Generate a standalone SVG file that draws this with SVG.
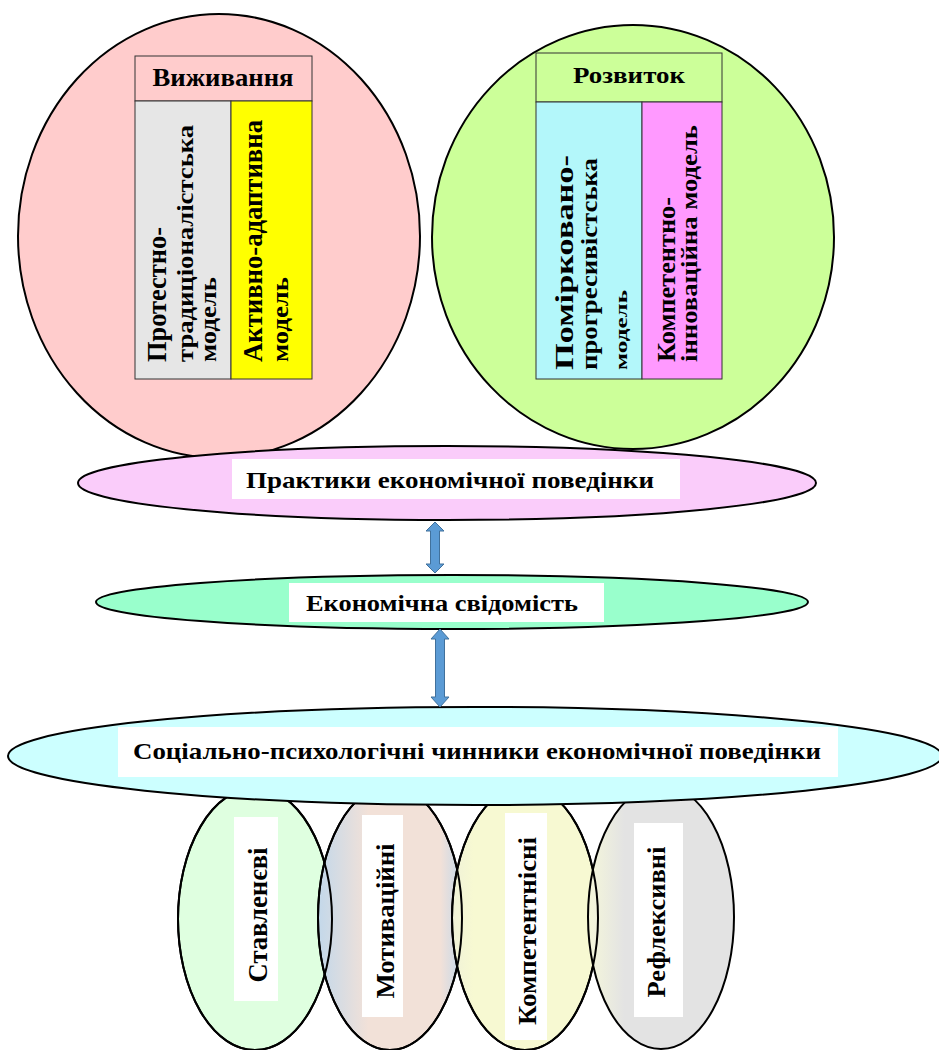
<svg xmlns="http://www.w3.org/2000/svg" width="939" height="1050" viewBox="0 0 939 1050">
<style>
.t{font-family:"Liberation Serif","Times New Roman",serif;font-weight:bold;fill:#000}
.e{stroke:#000;stroke-width:2}
.c{stroke:#333;stroke-width:1}
.arr{fill:#5B9BD5;stroke:#41719C;stroke-width:1}
.w{fill:#fff}
</style>
<defs>
<linearGradient id="gM" x1="0" y1="0" x2="1" y2="0">
<stop offset="0" stop-color="#C3D8EA"/><stop offset="0.35" stop-color="#F2E1D8"/><stop offset="0.85" stop-color="#F2E1D8"/><stop offset="1" stop-color="#C3D8EA"/>
</linearGradient>
<linearGradient id="gR" x1="0" y1="0" x2="1" y2="0">
<stop offset="0" stop-color="#F5F7DA"/><stop offset="0.25" stop-color="#E3E3E3"/><stop offset="1" stop-color="#E3E3E3"/>
</linearGradient>
<linearGradient id="gK" x1="0" y1="0" x2="1" y2="0">
<stop offset="0" stop-color="#F0F2D8"/><stop offset="0.15" stop-color="#F7F9D2"/><stop offset="1" stop-color="#F7F9D2"/>
</linearGradient>
</defs>

<g id="survival">
<ellipse class="e" cx="219" cy="236" rx="201" ry="222" fill="#FFCCCC"/>
<rect class="c" x="135" y="56" width="177" height="45" fill="#FFCCCC"/>
<text class="t" x="223" y="86" font-size="26" text-anchor="middle" textLength="141" lengthAdjust="spacingAndGlyphs">Виживання</text>
<rect class="c" x="135" y="101" width="96" height="278" fill="#E6E6E6"/>
<rect class="c" x="231" y="101" width="81" height="278" fill="#FFFF00"/>
<text class="t" font-size="27" transform="translate(166,362) rotate(-90)" textLength="135" lengthAdjust="spacingAndGlyphs">Протестно-</text>
<text class="t" font-size="24" transform="translate(193,362) rotate(-90)" textLength="237" lengthAdjust="spacingAndGlyphs">традиціоналістська</text>
<text class="t" font-size="24" transform="translate(216,362) rotate(-90)" textLength="85" lengthAdjust="spacingAndGlyphs">модель</text>
<text class="t" font-size="27" transform="translate(262,362) rotate(-90)" textLength="242" lengthAdjust="spacingAndGlyphs">Активно-адаптивна</text>
<text class="t" font-size="24" transform="translate(288,362) rotate(-90)" textLength="85" lengthAdjust="spacingAndGlyphs">модель</text>
</g>

<g id="development">
<ellipse class="e" cx="633" cy="237" rx="201" ry="212" fill="#CCFF99"/>
<rect class="c" x="536" y="53" width="186" height="49" fill="#CCFF99"/>
<text class="t" x="629" y="83" font-size="24" text-anchor="middle" textLength="112" lengthAdjust="spacingAndGlyphs">Розвиток</text>
<rect class="c" x="536" y="102" width="106" height="277" fill="#B3F7FA"/>
<rect class="c" x="642" y="102" width="80" height="277" fill="#FF99FF"/>
<text class="t" font-size="26" transform="translate(573,370) rotate(-90)" textLength="215" lengthAdjust="spacingAndGlyphs">Помірковано-</text>
<text class="t" font-size="24" transform="translate(597,370) rotate(-90)" textLength="212" lengthAdjust="spacingAndGlyphs">прогресивістська</text>
<text class="t" font-size="17" transform="translate(627,370) rotate(-90)" textLength="80" lengthAdjust="spacingAndGlyphs">модель</text>
<text class="t" font-size="26" transform="translate(675,362) rotate(-90)" textLength="165" lengthAdjust="spacingAndGlyphs">Компетентно-</text>
<text class="t" font-size="24" transform="translate(697,362) rotate(-90)" textLength="237" lengthAdjust="spacingAndGlyphs">інноваційна модель</text>
</g>

<g id="practices">
<ellipse class="e" cx="447" cy="483" rx="369" ry="37" fill="#FACCFA"/>
<rect class="w" x="232" y="459" width="448" height="40"/>
<text class="t" x="450" y="488" font-size="24" text-anchor="middle" textLength="408" lengthAdjust="spacingAndGlyphs">Практики економічної поведінки</text>
</g>

<g id="consciousness">
<ellipse class="e" cx="452" cy="602" rx="356" ry="27" fill="#99FFCC"/>
<rect class="w" x="289" y="583" width="315" height="39"/>
<text class="t" x="442" y="611" font-size="24" text-anchor="middle" textLength="272" lengthAdjust="spacingAndGlyphs">Економічна свідомість</text>
</g>

<g id="stavlenevi">
<ellipse class="e" cx="255" cy="919" rx="77" ry="131" fill="#DFFFE0"/>
</g>
<g id="motyvatsiini">
<ellipse class="e" cx="390" cy="918" rx="72" ry="132" fill="url(#gM)"/>
</g>
<g id="kompetentnisni">
<ellipse class="e" cx="525" cy="918" rx="73" ry="132" fill="url(#gK)"/>
</g>
<g id="refleksyvni">
<ellipse class="e" cx="661" cy="917" rx="73" ry="132" fill="url(#gR)"/>
</g>
<g id="outlines" fill="none" stroke="#000" stroke-width="2">
<ellipse cx="255" cy="919" rx="77" ry="131"/>
<ellipse cx="390" cy="918" rx="72" ry="132"/>
<ellipse cx="525" cy="918" rx="73" ry="132"/>
</g>
<g id="bottom-labels">
<rect class="w" x="234" y="817" width="44" height="184"/>
<text class="t" font-size="27" text-anchor="middle" transform="translate(267,915) rotate(-90)" textLength="135" lengthAdjust="spacingAndGlyphs">Ставленєві</text>
<rect class="w" x="362" y="815" width="41" height="202"/>
<text class="t" font-size="26" text-anchor="middle" transform="translate(394,921) rotate(-90)" textLength="155" lengthAdjust="spacingAndGlyphs">Мотиваційні</text>
<rect class="w" x="505" y="813" width="42" height="227"/>
<text class="t" font-size="26" text-anchor="middle" transform="translate(536,931) rotate(-90)" textLength="188" lengthAdjust="spacingAndGlyphs">Компетентнісні</text>
<rect class="w" x="634" y="823" width="49" height="194"/>
<text class="t" font-size="26" text-anchor="middle" transform="translate(665,922) rotate(-90)" textLength="151" lengthAdjust="spacingAndGlyphs">Рефлексивні</text>
</g>

<g id="factors">
<ellipse class="e" cx="475" cy="756" rx="467" ry="49" fill="#CCFFFF"/>
<rect class="w" x="118" y="727" width="720" height="50"/>
<text class="t" x="477" y="759" font-size="23" text-anchor="middle" textLength="688" lengthAdjust="spacingAndGlyphs">Соціально-психологічні чинники економічної поведінки</text>
</g>

<g id="connectors">
<path class="arr" d="M435,522 L444,531 L439.5,531 L439.5,564 L444,564 L435,573 L426,564 L430.5,564 L430.5,531 L426,531 Z"/>
<path class="arr" d="M440,629 L449,639 L444.5,639 L444.5,697 L449,697 L440,707 L431,697 L435.5,697 L435.5,639 L431,639 Z"/>
</g>
</svg>
